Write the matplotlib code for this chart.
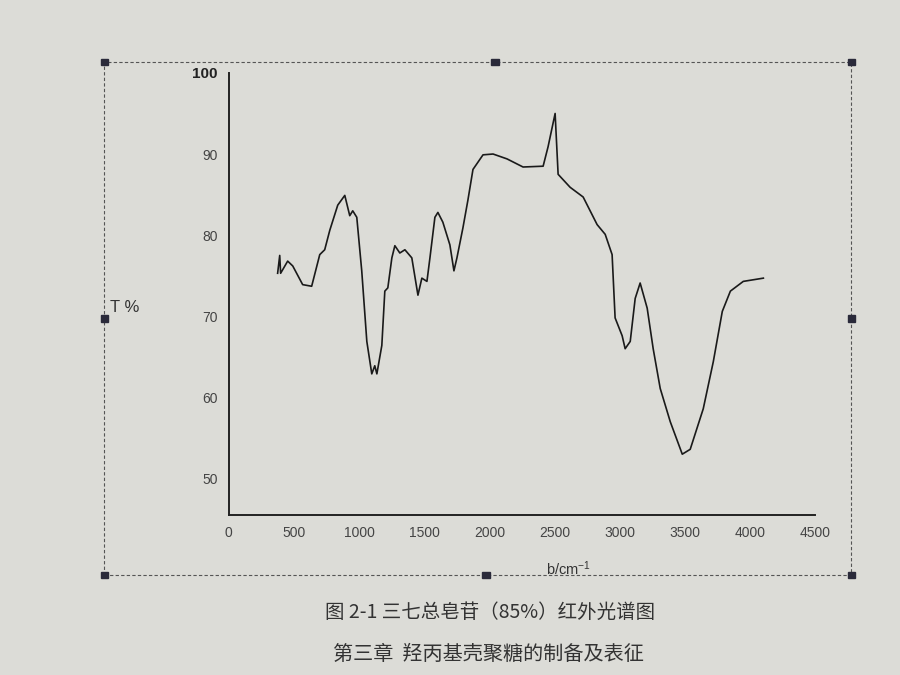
import matplotlib
matplotlib.use("Agg")
import matplotlib.pyplot as plt
from matplotlib.patches import Rectangle

plt.rcParams['font.family'] = ['Liberation Sans', 'Noto Sans CJK SC', 'DejaVu Sans']

# IR spectrum
wavenumber = [376, 392, 399, 453, 492, 568, 637, 699, 737, 776, 837, 891, 929, 952, 983,
              1021, 1060, 1098, 1121, 1137, 1175, 1198, 1221, 1252, 1275, 1313, 1352, 1405,
              1452, 1482, 1521, 1544, 1582, 1605, 1643, 1697, 1728, 1751, 1797, 1835, 1874,
              1951, 2028, 2135, 2258, 2412, 2450, 2504, 2527, 2619, 2719, 2826, 2888, 2941,
              2964, 3018, 3041, 3080, 3118, 3156, 3210, 3256, 3310, 3387, 3479, 3540, 3640,
              3717, 3786, 3848, 3947, 4101]
transmittance = [75.3, 77.5, 75.3, 76.8, 76.2, 73.9, 73.7, 77.6, 78.2, 80.6, 83.7, 84.9, 82.4,
                 83.0, 82.2, 75.6, 66.9, 62.9, 63.9, 62.9, 66.4, 73.1, 73.5, 77.2, 78.7, 77.8,
                 78.2, 77.2, 72.6, 74.7, 74.3, 77.2, 82.2, 82.8, 81.6, 78.8, 75.6, 77.2, 80.9,
                 84.3, 88.1, 89.9, 90.0, 89.4, 88.4, 88.5, 90.9, 95.0, 87.5, 85.9, 84.7, 81.3,
                 80.1, 77.6, 69.8, 67.6, 66.0, 66.9, 72.2, 74.1, 71.0, 66.0, 61.1, 57.0, 53.0,
                 53.6, 58.6, 64.4, 70.6, 73.1, 74.3, 74.7]

x_ticks = [0, 500, 1000, 1500, 2000, 2500, 3000, 3500, 4000, 4500]
y_ticks = [50, 60, 70, 80, 90, 100]

bg = '#dcdcd7'
fig = plt.figure(figsize=(9, 6.75), dpi=100, facecolor=bg)
ax = fig.add_axes([0.254, 0.237, 0.652, 0.655], facecolor=bg)

ax.plot(wavenumber, transmittance, color='#1a1a1a', linewidth=1.2)

ax.set_xlim(0, 4500)
ax.set_ylim(45.5, 100)
ax.set_xticks(x_ticks)
ax.set_yticks(y_ticks)
ax.set_xticklabels([str(t) for t in x_ticks], fontsize=10, color='#444444')
ax.set_yticklabels([str(t) for t in y_ticks], fontsize=10, color='#444444')
ax.get_yticklabels()[-1].set_fontweight('bold')
ax.get_yticklabels()[-1].set_color('#222222')
ax.get_yticklabels()[-1].set_fontsize(11)
ax.tick_params(length=0, pad=8)

for side in ['top', 'right']:
    ax.spines[side].set_visible(False)
for side in ['left', 'bottom']:
    ax.spines[side].set_color('#222222')
    ax.spines[side].set_linewidth(1.4)

ax.set_xlabel(r'b/cm$\mathregular{^{-1}}$', fontsize=10.5, color='#333333')
ax.xaxis.set_label_coords(0.58, -0.10)
fig.text(0.122, 0.545, 'T %', fontsize=12, color='#333333', ha='left', va='center')

# dashed selection frame with handles
fig.patches.append(Rectangle((0.116, 0.148), 0.83, 0.76, transform=fig.transFigure,
                             fill=False, linestyle=(0, (3, 2)), linewidth=0.8,
                             edgecolor='#555555'))
handles = [(0.116, 0.908), (0.55, 0.908), (0.946, 0.908), (0.116, 0.528),
           (0.946, 0.528), (0.116, 0.148), (0.54, 0.148), (0.946, 0.148)]
for hx, hy in handles:
    fig.patches.append(Rectangle((hx - 0.004, hy - 0.005), 0.008, 0.010,
                                 transform=fig.transFigure, color='#2a2a3a'))

fig.text(0.545, 0.093, '图 2-1 三七总皂苷（85%）红外光谱图', fontsize=14,
         color='#333333', ha='center', va='center',
         family=['Noto Sans CJK SC', 'DejaVu Sans'])
fig.text(0.543, 0.030, '第三章  羟丙基壳聚糖的制备及表征', fontsize=14.5,
         color='#333333', ha='center', va='center',
         family=['Noto Sans CJK SC', 'DejaVu Sans'])

fig.savefig('out.png', dpi=100, facecolor=bg)
